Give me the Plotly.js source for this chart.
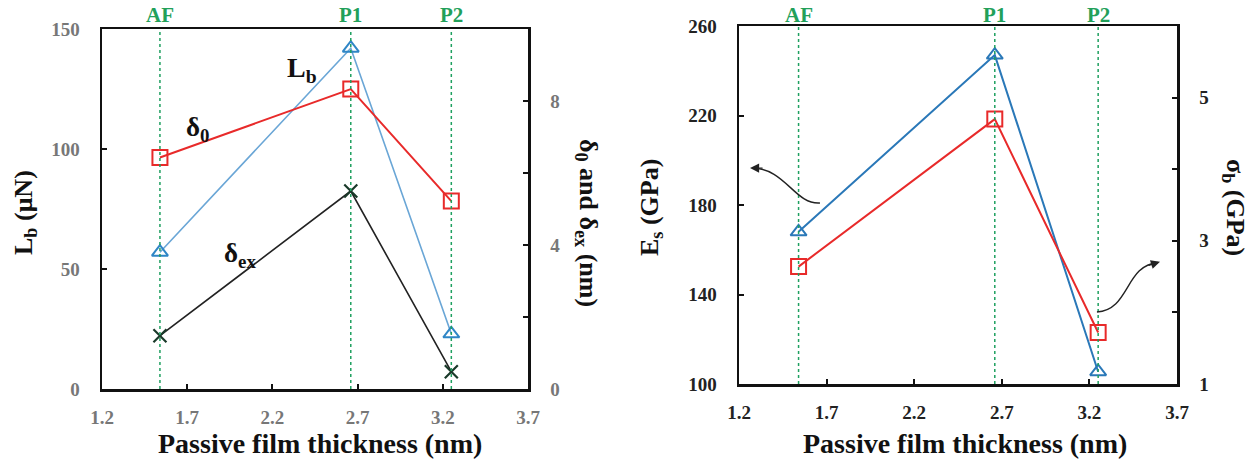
<!DOCTYPE html>
<html><head><meta charset="utf-8">
<script src="https://cdn.plot.ly/plotly-3.0.1.min.js"></script>
<style>html,body{margin:0;padding:0;background:#fff}#c{width:1253px;height:462px}</style>
</head><body><div id="c"></div>
<script>
const thickness = [1.54, 2.66, 3.25];
const phaseLabels = ['AF', 'P1', 'P2'];
const Lb = [57, 142, 23];
const delta0 = [6.43, 8.33, 5.22];
const deltaEx = [1.48, 5.5, 0.48];
const Es = [168, 247, 105.5];
const sigmaB = [2.64, 4.70, 1.72];
const xTicks = [1.2, 1.7, 2.2, 2.7, 3.2, 3.7];

const F = 'Liberation Serif, Times New Roman, serif';
const B = s => s === '' ? '' : '<b>' + s + '</b>';
const traces = [
  {x: thickness, y: Lb, xaxis: 'x', yaxis: 'y', mode: 'lines+markers',
   line: {color: '#6aa6d6', width: 1.6}, marker: {symbol: 'triangle-up-open', size: 14, color: '#2f86c6', line: {width: 2}}},
  {x: thickness, y: delta0, xaxis: 'x', yaxis: 'y2', mode: 'lines+markers',
   line: {color: '#e82a2a', width: 2}, marker: {symbol: 'square-open', size: 15, color: '#e82a2a', line: {width: 2}}},
  {x: thickness, y: deltaEx, xaxis: 'x', yaxis: 'y2', mode: 'lines+markers',
   line: {color: '#222', width: 1.6}, marker: {symbol: 'x-thin-open', size: 13, color: '#1a3a2a', line: {width: 2.2}}},
  {x: thickness, y: Es, xaxis: 'x2', yaxis: 'y3', mode: 'lines+markers',
   line: {color: '#2a78b8', width: 2}, marker: {symbol: 'triangle-up-open', size: 14, color: '#2a78b8', line: {width: 2}}},
  {x: thickness, y: sigmaB, xaxis: 'x2', yaxis: 'y4', mode: 'lines+markers',
   line: {color: '#e82a2a', width: 2}, marker: {symbol: 'square-open', size: 15, color: '#e82a2a', line: {width: 2}}}
];

function xa(dom, yanchor, col) {
  return {domain: dom, anchor: yanchor, range: [1.2, 3.7], tickvals: xTicks, ticktext: xTicks.map(v => B(v.toFixed(1))),
    ticks: 'inside', ticklen: 5, tickwidth: 2, tickcolor: '#111', showline: true, linewidth: 2.5, linecolor: '#111',
    mirror: true, showgrid: false, zeroline: false, ticklabelstandoff: 10,
    tickfont: {family: F, size: 19, color: col}};
}
function ya(dom, xanchor, range, tv, tt, col, side, overlay) {
  const o = {domain: dom, anchor: xanchor, range: range, tickvals: tv, ticktext: tt.map(B),
    ticks: 'inside', ticklen: 5, tickwidth: 2, tickcolor: '#111', showline: true, linewidth: 2.5, linecolor: '#111',
    showgrid: false, zeroline: false, ticklabelstandoff: 16, side: side,
    tickfont: {family: F, size: 19, color: col}};
  if (overlay) o.overlaying = overlay; else o.mirror = true;
  return o;
}

const shapes = [];
const annotations = [];
phaseLabels.forEach((p, i) => {
  [['x', 'y'], ['x2', 'y3']].forEach(([xr, yr]) => {
    shapes.push({type: 'line', xref: xr, yref: yr + ' domain', x0: thickness[i], x1: thickness[i], y0: 0, y1: 1,
      line: {color: '#1fa060', width: 1.5, dash: 'dot'}});
    annotations.push({xref: xr, yref: 'paper', x: thickness[i], y: 1 - 15 / 462, text: '<b>' + p + '</b>', showarrow: false,
      yanchor: 'middle', font: {family: F, size: 21, color: '#22a05a'}});
  });
});

// curved arrows (right panel)
shapes.push({type: 'path', xref: 'x2', yref: 'y3', path: 'M 1.662 180.9 C 1.52 180, 1.463 196.5, 1.275 196.5', line: {color: '#222', width: 1.4}});
shapes.push({type: 'path', xref: 'x2', yref: 'y3', path: 'M 3.243 132.2 C 3.432 133.1, 3.403 153.2, 3.59 154.2', line: {color: '#222', width: 1.4}});
annotations.push({xref: 'x2', yref: 'y3', x: 1.263, y: 196.5, ax: 14, ay: 0, text: '', showarrow: true, arrowhead: 2, arrowsize: 1.3, arrowwidth: 1.4, arrowcolor: '#222', standoff: 0});
annotations.push({xref: 'x2', yref: 'y3', x: 3.603, y: 154.6, ax: -13, ay: 4, text: '', showarrow: true, arrowhead: 2, arrowsize: 1.3, arrowwidth: 1.4, arrowcolor: '#222', standoff: 0});

const lab = (x, y, t, size, angle) => ({xref: 'paper', yref: 'paper', x: x / 1253, y: 1 - y / 462, text: t, showarrow: false,
  textangle: angle || 0, font: {family: F, size: size, color: '#111'}, xanchor: 'center', yanchor: 'middle'});
annotations.push(lab(302, 70, '<b>L<sub>b</sub></b>', 28));
annotations.push(lab(197, 129, '<b>δ<sub>0</sub></b>', 27));
annotations.push(lab(240, 255, '<b>δ<sub>ex</sub></b>', 27));
annotations.push(lab(25, 213, '<b>L<sub>b</sub> (μN)</b>', 26, -90));
annotations.push(lab(587, 223, '<b>δ<sub>0</sub> and δ<sub>ex</sub> (nm)</b>', 26, 90));
annotations.push(lab(320, 443, '<b>Passive film thickness (nm)</b>', 28));
annotations.push(lab(651, 207, '<b>E<sub>s</sub> (GPa)</b>', 26, -90));
annotations.push(lab(1234, 207, '<b>σ<sub>b</sub> (GPa)</b>', 26, 90));
annotations.push(lab(965, 443, '<b>Passive film thickness (nm)</b>', 28));

const layout = {
  width: 1253, height: 462, margin: {l: 0, r: 0, t: 0, b: 0}, showlegend: false,
  paper_bgcolor: '#fff', plot_bgcolor: '#fff',
  xaxis: xa([102 / 1253, 528 / 1253], 'y', '#777'),
  yaxis: ya([1 - 389 / 462, 1 - 29 / 462], 'x', [0, 150], [0, 50, 100, 150], ['0', '50', '100', '150'], '#777', 'left'),
  yaxis2: ya([1 - 389 / 462, 1 - 29 / 462], 'x', [0, 10], [0, 2, 4, 6, 8], ['0', '', '4', '', '8'], '#777', 'right', 'y'),
  xaxis2: xa([739 / 1253, 1177 / 1253], 'y3', '#222'),
  yaxis3: ya([1 - 384 / 462, 1 - 26 / 462], 'x2', [100, 260], [100, 140, 180, 220, 260], ['100', '140', '180', '220', '260'], '#222', 'left'),
  yaxis4: ya([1 - 384 / 462, 1 - 26 / 462], 'x2', [1, 6], [1, 2, 3, 4, 5], ['1', '', '3', '', '5'], '#222', 'right', 'y3'),
  shapes: shapes, annotations: annotations
};
Plotly.newPlot('c', traces, layout, {staticPlot: true});
</script></body></html>
